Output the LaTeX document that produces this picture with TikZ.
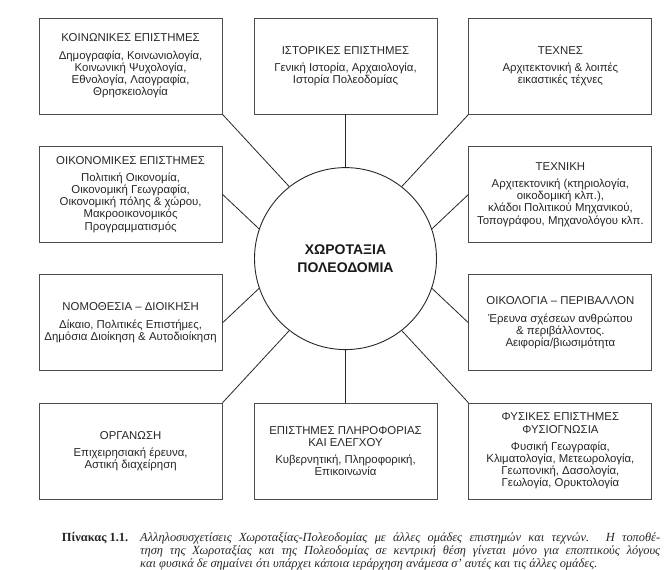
\documentclass[tikz,border=0pt]{standalone}
\usepackage{fontspec}
\setmainfont{Liberation Serif}
\newfontfamily\fieldfam{Liberation Sans}
\usetikzlibrary{positioning, calc}
\tikzset{
  field/.style   = {rectangle, draw=black!70, line width=0.9pt,
                    minimum width=183pt, minimum height=96pt, align=center,
                    inner sep=1pt, text=black!85,
                    font=\fieldfam\fontsize{11.4}{12.2}\selectfont},
  hub/.style     = {circle, draw=black!85, line width=0.9pt,
                    minimum size=182pt, align=center, inner sep=0pt,
                    text=black!90, font=\fieldfam\bfseries\fontsize{14}{18}\selectfont},
  link/.style    = {draw=black!85, line width=0.8pt},
  caption/.style = {text width=630pt, align=justify, inner sep=0pt,
                    text=black!85, font=\itshape\fontsize{12.4}{13}\selectfont},
}

\begin{document}
\begin{tikzpicture}[x=1pt, y=-1pt, node distance=31pt]
  \useasboundingbox (0,0) rectangle (667,570);

  % top row
  \node[field] (hist) at (345.5,66) {ΙΣΤΟΡΙΚΕΣ ΕΠΙΣΤΗΜΕΣ\\[5pt]Γενική Ιστορία, Αρχαιολογία,\\Ιστορία Πολεοδομίας};
  \node[field, left=of hist] (soc) {ΚΟΙΝΩΝΙΚΕΣ ΕΠΙΣΤΗΜΕΣ\\[5pt]Δημογραφία, Κοινωνιολογία,\\Κοινωνική Ψυχολογία,\\Εθνολογία, Λαογραφία,\\Θρησκειολογία};
  \node[field, right=of hist] (arts) {ΤΕΧΝΕΣ\\[5pt]Αρχιτεκτονική \& λοιπές\\εικαστικές τέχνες};

  % side columns
  \node[field, below=31.5pt of soc] (econ) {ΟΙΚΟΝΟΜΙΚΕΣ ΕΠΙΣΤΗΜΕΣ\\[5pt]Πολιτική Οικονομία,\\Οικονομική Γεωγραφία,\\Οικονομική πόλης \& χώρου,\\Μακροοικονομικός\\Προγραμματισμός};
  \node[field, below=31.5pt of arts] (tech) {ΤΕΧΝΙΚΗ\\[5pt]Αρχιτεκτονική (κτηριολογία,\\οικοδομική κλπ.),\\κλάδοι Πολιτικού Μηχανικού,\\Τοπογράφου, Μηχανολόγου κλπ.};
  \node[field, below=31.5pt of econ] (law) {ΝΟΜΟΘΕΣΙΑ – ΔΙΟΙΚΗΣΗ\\[5pt]Δίκαιο, Πολιτικές Επιστήμες,\\Δημόσια Διοίκηση \& Αυτοδιοίκηση};
  \node[field, below=31.5pt of tech] (ecol) {ΟΙΚΟΛΟΓΙΑ – ΠΕΡΙΒΑΛΛΟΝ\\[5pt]Έρευνα σχέσεων ανθρώπου\\\& περιβάλλοντος.\\Αειφορία/βιωσιμότητα};

  % bottom row
  \node[field, below=31.5pt of law] (org) {ΟΡΓΑΝΩΣΗ\\[5pt]Επιχειρησιακή έρευνα,\\Αστική διαχείρηση};
  \node[field, right=of org] (info) {ΕΠΙΣΤΗΜΕΣ ΠΛΗΡΟΦΟΡΙΑΣ\\ΚΑΙ ΕΛΕΓΧΟΥ\\[5pt]Κυβερνητική, Πληροφορική,\\Επικοινωνία};
  \node[field, right=of info] (phys) {ΦΥΣΙΚΕΣ ΕΠΙΣΤΗΜΕΣ\\ΦΥΣΙΟΓΝΩΣΙΑ\\[5pt]Φυσική Γεωγραφία,\\Κλιματολογία, Μετεωρολογία,\\Γεωπονική, Δασολογία,\\Γεωλογία, Ορυκτολογία};

  % centre
  \node[hub] (hub) at ($(econ)!0.5!(ecol)$) {ΧΩΡΟΤΑΞΙΑ\\ΠΟΛΕΟΔΟΜΙΑ};

  \draw[link] (soc.south east) -- (hub.128);
  \draw[link] (hist.south) -- (hub.north);
  \draw[link] (arts.south west) -- (hub.52);
  \draw[link] (econ.east) -- (hub.161);
  \draw[link] (tech.west) -- (hub.19);
  \draw[link] (law.east) -- (hub.199);
  \draw[link] (ecol.west) -- (hub.-19);
  \draw[link] (org.north east) -- (hub.232);
  \draw[link] (info.north) -- (hub.south);
  \draw[link] (phys.north west) -- (hub.-52);

  % caption
  \node[caption, anchor=north west] (cap) at (30,532)
    {\hangindent=110pt\hangafter=1\makebox[110pt][r]{\upshape\bfseries Πίνακας 1.1.\hspace{12pt}}Αλληλοσυσχετίσεις Χωροταξίας-Πολεοδομίας με άλλες ομάδες επιστημών και τεχνών. Η τοποθέ-\linebreak τηση της Χωροταξίας και της Πολεοδομίας σε κεντρική θέση γίνεται μόνο για εποπτικούς λόγους\linebreak και φυσικά δε σημαίνει ότι υπάρχει κάποια ιεράρχηση ανάμεσα σ' αυτές και τις άλλες ομάδες.\par};
\end{tikzpicture}
\end{document}
